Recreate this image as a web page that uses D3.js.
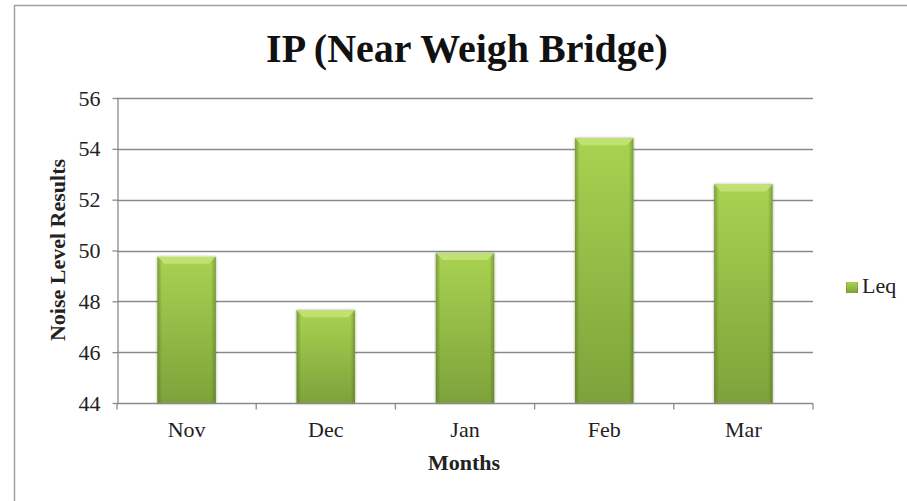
<!DOCTYPE html>
<html lang="en">
<head>
<meta charset="UTF-8">
<title>IP (Near Weigh Bridge)</title>
<script src="https://cdn.jsdelivr.net/npm/d3@7"></script>
<style>
  html, body { margin: 0; padding: 0; background: #fff; }
  svg { display: block; font-family: "Liberation Serif", "Times New Roman", serif; }
  svg text { font-family: "Liberation Serif", "Times New Roman", serif; }
</style>
</head>
<body>
<div id="chart"></div>
<script>
// chart data
const months = ["Nov", "Dec", "Jan", "Feb", "Mar"];
const leq = [49.75, 47.65, 49.9, 54.42, 52.6];
const yTicks = [44, 46, 48, 50, 52, 54, 56];
const seriesName = "Leq";

const width = 907, height = 501;
const margin = { top: 98, right: 94, bottom: 98, left: 117 };
const labelSize = 22;

const svg = d3.select("#chart").append("svg")
    .attr("width", width)
    .attr("height", height);

// gradients for the bevelled bars
const defs = svg.append("defs");
const vGrad = defs.append("linearGradient").attr("id", "barV")
    .attr("x1", 0).attr("y1", 0).attr("x2", 0).attr("y2", 1);
vGrad.append("stop").attr("offset", "0%").attr("stop-color", "#a9d252");
vGrad.append("stop").attr("offset", "100%").attr("stop-color", "#7ea23a");

const hGrad = defs.append("linearGradient").attr("id", "barH")
    .attr("x1", 0).attr("y1", 0).attr("x2", 1).attr("y2", 0);
hGrad.append("stop").attr("offset", "0%").attr("stop-color", "#4d6a1c").attr("stop-opacity", 0.5);
hGrad.append("stop").attr("offset", "8%").attr("stop-color", "#4d6a1c").attr("stop-opacity", 0);
hGrad.append("stop").attr("offset", "92%").attr("stop-color", "#4d6a1c").attr("stop-opacity", 0);
hGrad.append("stop").attr("offset", "100%").attr("stop-color", "#4d6a1c").attr("stop-opacity", 0.5);

const shadow = defs.append("filter").attr("id", "shadow")
    .attr("x", "-20%").attr("y", "-10%").attr("width", "140%").attr("height", "120%");
shadow.append("feGaussianBlur").attr("in", "SourceAlpha").attr("stdDeviation", 1.5);
shadow.append("feComponentTransfer").append("feFuncA").attr("type", "linear").attr("slope", 0.35);
const merge = shadow.append("feMerge");
merge.append("feMergeNode");
merge.append("feMergeNode").attr("in", "SourceGraphic");

const x = d3.scaleBand()
    .domain(months)
    .range([margin.left, width - margin.right])
    .paddingInner(0.58)
    .paddingOuter(0.29);

const y = d3.scaleLinear()
    .domain([44, 56])
    .range([height - margin.bottom, margin.top]);

// frame of the embedding cell
svg.append("line").attr("x1", 14.5).attr("x2", width).attr("y1", 5.5).attr("y2", 5.5)
    .attr("stroke", "#a0a0a0").attr("stroke-width", 1.5);
svg.append("line").attr("x1", 14.5).attr("x2", 14.5).attr("y1", 5).attr("y2", height)
    .attr("stroke", "#a0a0a0").attr("stroke-width", 1.5);

// gridlines
svg.append("g")
    .selectAll("line")
    .data(yTicks.slice(1))
    .join("line")
    .attr("x1", margin.left)
    .attr("x2", width - margin.right)
    .attr("y1", d => Math.round(y(d)) + 0.5)
    .attr("y2", d => Math.round(y(d)) + 0.5)
    .attr("stroke", "#8a8a8a")
    .attr("stroke-width", 1.3);

// bars
const bars = svg.append("g")
    .selectAll("g")
    .data(months.map((m, i) => ({ m, v: leq[i] })))
    .join("g");

bars.append("rect")
    .attr("x", d => x(d.m))
    .attr("y", d => y(d.v))
    .attr("width", x.bandwidth())
    .attr("height", d => y(44) - y(d.v))
    .attr("fill", "url(#barV)")
    .attr("filter", "url(#shadow)");

bars.append("rect")
    .attr("x", d => x(d.m))
    .attr("y", d => y(d.v))
    .attr("width", x.bandwidth())
    .attr("height", d => y(44) - y(d.v))
    .attr("fill", "url(#barH)");

// top bevel
bars.append("path")
    .attr("d", d => {
        const x0 = x(d.m), x1 = x0 + x.bandwidth(), t = y(d.v), b = 7;
        return `M${x0},${t}L${x1},${t}L${x1 - b},${t + b}L${x0 + b},${t + b}Z`;
    })
    .attr("fill", "#c8e57c")
    .attr("opacity", 0.8);

// y axis
const yAxis = svg.append("g")
    .attr("transform", `translate(${margin.left + 0.5},0)`)
    .call(d3.axisLeft(y).tickValues(yTicks).tickSize(5).tickPadding(12).tickSizeOuter(0));
yAxis.attr("font-family", null);
yAxis.select(".domain").attr("stroke", "#8a8a8a").attr("stroke-width", 1.3);
yAxis.selectAll(".tick line").attr("stroke", "#8a8a8a").attr("stroke-width", 1.3);
yAxis.selectAll(".tick text")
    .style("font-family", "'Liberation Serif', serif")
    .attr("font-size", labelSize)
    .attr("fill", "#222");

// x axis: ticks between categories
const xAxis = svg.append("g")
    .attr("transform", `translate(0,${Math.round(y(44)) + 0.5})`);
xAxis.append("line")
    .attr("x1", margin.left)
    .attr("x2", width - margin.right)
    .attr("stroke", "#8a8a8a").attr("stroke-width", 1.3);
const bounds = d3.range(months.length + 1).map(i => margin.left + i * (width - margin.left - margin.right) / months.length);
xAxis.selectAll("line.tk")
    .data(bounds)
    .join("line")
    .attr("class", "tk")
    .attr("x1", d => d).attr("x2", d => d)
    .attr("y1", 0).attr("y2", 6)
    .attr("stroke", "#8a8a8a").attr("stroke-width", 1.3);
xAxis.selectAll("text")
    .data(months)
    .join("text")
    .attr("x", d => x(d) + x.bandwidth() / 2)
    .attr("y", 33)
    .attr("text-anchor", "middle")
    .attr("font-size", labelSize)
    .attr("fill", "#222")
    .text(d => d);

// title
svg.append("text")
    .attr("x", 467)
    .attr("y", 62)
    .attr("text-anchor", "middle")
    .attr("font-size", 40)
    .attr("font-weight", "bold")
    .attr("fill", "#111")
    .text("IP (Near Weigh Bridge)");

// axis titles
svg.append("text")
    .attr("x", 464)
    .attr("y", 470)
    .attr("text-anchor", "middle")
    .attr("font-size", labelSize)
    .attr("font-weight", "bold")
    .attr("fill", "#222")
    .text("Months");

svg.append("text")
    .attr("transform", "translate(65,250) rotate(-90)")
    .attr("text-anchor", "middle")
    .attr("font-size", labelSize)
    .attr("font-weight", "bold")
    .attr("fill", "#222")
    .text("Noise Level Results");

// legend
const legend = svg.append("g").attr("transform", "translate(846,282)");
legend.append("rect")
    .attr("width", 12).attr("height", 11)
    .attr("fill", "url(#barV)");
legend.append("rect")
    .attr("width", 12).attr("height", 11)
    .attr("fill", "url(#barH)");
legend.append("text")
    .attr("x", 16).attr("y", 11)
    .attr("font-size", labelSize)
    .attr("fill", "#222")
    .text(seriesName);
</script>
</body>
</html>
